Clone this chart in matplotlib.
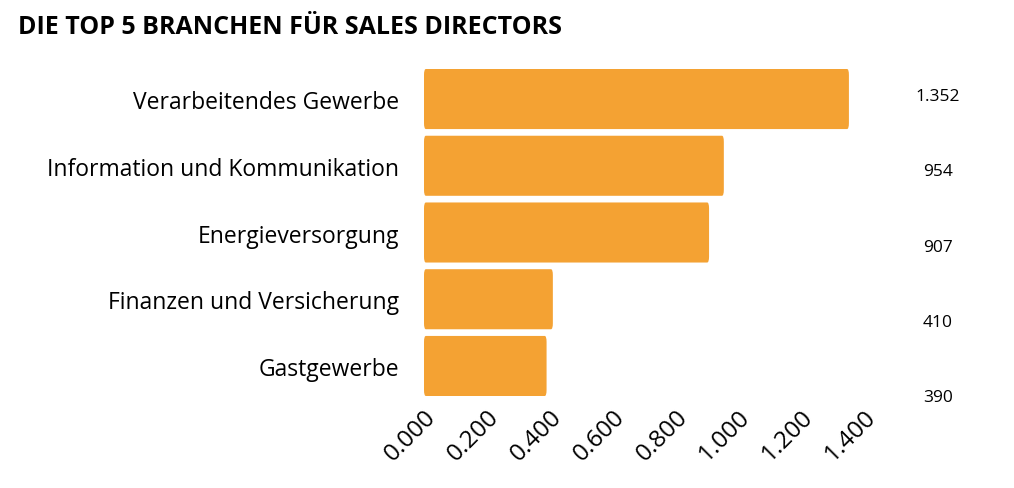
import matplotlib.pyplot as plt
from matplotlib.patches import FancyBboxPatch

branchen = ['Verarbeitendes Gewerbe', 'Information und Kommunikation',
            'Energieversorgung', 'Finanzen und Versicherung', 'Gastgewerbe']
werte = [1352, 954, 907, 410, 390]
werte_text = ['1.352', '954', '907', '410', '390']
ticks = [0, 200, 400, 600, 800, 1000, 1200, 1400]
tick_labels = ['0.000', '0.200', '0.400', '0.600', '0.800', '1.000', '1.200', '1.400']

plt.rcParams['font.family'] = 'Open Sans'
fig = plt.figure(figsize=(10.14, 4.89), dpi=100)
ax = fig.add_axes([424 / 1014, 1 - 397 / 489, 440 / 1014, 327 / 489])

color = '#F4A233'
h = 0.9
for i, v in enumerate(werte):
    ax.add_patch(FancyBboxPatch((0, i - h / 2), v, h,
                                boxstyle='round,pad=0,rounding_size=6',
                                mutation_aspect=h / 60,
                                fc=color, ec='none'))
    # value labels drift slightly below the bar centre in the original
    ax.text(1635, i - 0.05 + 0.13 * i, werte_text[i], ha='center', va='center',
            fontsize=12.5, color='black', clip_on=False)

ax.set_xlim(0, 1400)
ax.set_ylim(4.45, -0.45)
ax.set_yticks(range(len(branchen)))
ax.set_yticklabels(branchen, fontsize=16.5)
ax.set_xticks(ticks)
ax.set_xticklabels(tick_labels, rotation=45, ha='right', rotation_mode='anchor',
                   fontsize=17.5)
ax.tick_params(length=0, pad=18, axis='y')
ax.tick_params(length=0, pad=6, axis='x')
for s in ax.spines.values():
    s.set_visible(False)

fig.text(18 / 1014, 1 - 27 / 489, 'DIE TOP 5 BRANCHEN FÜR SALES DIRECTORS',
         fontsize=18, fontweight='bold', va='center', color='black')

fig.savefig('out.png', dpi=100)
